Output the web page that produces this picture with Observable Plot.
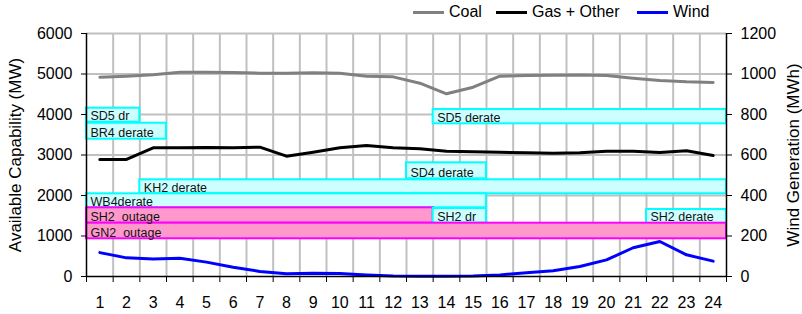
<!DOCTYPE html>
<html><head><meta charset="utf-8">
<script src="https://cdn.jsdelivr.net/npm/d3@7"></script>
<script src="https://cdn.jsdelivr.net/npm/@observablehq/plot@0.6"></script>
<style>
body{margin:0;background:#fff;font-family:"Liberation Sans",Arial,sans-serif;}
#wrap{position:relative;width:802px;height:314px;overflow:hidden;}
#legend{position:relative;height:22px;}
.item{position:absolute;top:3px;font-size:16px;line-height:18px;display:flex;align-items:center;white-space:nowrap;color:#000;}
.sw{display:inline-block;width:31px;height:3px;margin-right:5px;}
#title{position:absolute;left:84px;top:-21px;font:bold 20px "Liberation Sans",Arial,sans-serif;color:#3333cc;line-height:20px;white-space:nowrap;}
</style></head><body>
<div id="wrap">
<div id="title">Capacity</div>
<div id="legend"></div>
<div id="chart"></div>
</div>
<script>
// Categories (hour of day)
const hours = [1,2,3,4,5,6,7,8,9,10,11,12,13,14,15,16,17,18,19,20,21,22,23,24];
// Series values
const coal = [4920,4946,4980,5045,5045,5037,5020,5020,5030,5020,4946,4930,4773,4511,4674,4946,4963,4970,4975,4963,4897,4840,4807,4790];
const gas  = [2889,2889,3177,3177,3185,3177,3193,2971,3070,3177,3235,3177,3152,3095,3078,3070,3053,3045,3053,3095,3095,3062,3103,2988];
const wind = [118,92,87,90,71,46,25,13,16,15,8,3,1,1,2,8,18,28,49,82,142,173,107,76]; // MWh
// Tick labels
const yTicks = [0,1000,2000,3000,4000,5000,6000];
const windPerMW = 1200/6000;
// Unit outage / derate bands
const boxLabel = ["SD5 dr","BR4 derate","SD5 derate","SD4 derate","KH2 derate","WB4derate","SH2  outage","SH2 dr","SH2 derate","GN2  outage"];
const boxFrom  = [1,1,14,13,3,1,1,14,22,1];
const boxTo    = [2,3,24,15,24,15,13,15,24,24];
const boxLow   = [3810,3390,3770,2412,2042,1696,1316,1316,1309,931];
const boxHigh  = [4156,3785,4123,2807,2388,2042,1696,1679,1654,1316];
const boxKind  = ["derate","derate","derate","derate","derate","derate","outage","derate","derate","outage"];

const series = hours.map((h,i)=>({hour:h, coal:coal[i], gas:gas[i], wind:wind[i]}));
const boxes = boxLabel.map((label,i)=>({label, x1:boxFrom[i]-0.5, x2:boxTo[i]+0.5, y1:boxLow[i], y2:boxHigh[i], kind:boxKind[i]}));
const edges = [0.5].concat(hours.map(h=>h+0.5));
const inner = edges.slice(1,-1);

const legendItems = [["Coal","#808080",413],["Gas + Other","#000000",496],["Wind","#0000ff",637]];
const lg = document.getElementById("legend");
for (const [t,c,l] of legendItems) {
  const d = document.createElement("div");
  d.className = "item"; d.style.left = l+"px";
  d.innerHTML = `<span class="sw" style="background:${c}"></span><span>${t}</span>`;
  lg.appendChild(d);
}

const chart = Plot.plot({
  width: 802, height: 292,
  marginTop: 11, marginBottom: 38, marginLeft: 86, marginRight: 76,
  style: {fontFamily: "'Liberation Sans', Arial, sans-serif", fontSize: "16px", color: "#000", background: "#fff"},
  x: {type: "linear", domain: [0.5, 24.5]},
  y: {domain: [0, 6000]},
  color: {type: "identity"},
  marks: [
    Plot.ruleX(inner, {stroke: "#c0c0c0", strokeWidth: 2}),
    Plot.ruleY(yTicks.slice(1), {stroke: "#c0c0c0", strokeWidth: 2}),
    Plot.rect(boxes, {x1: "x1", x2: "x2", y1: "y1", y2: "y2",
      fill: d => d.kind === "outage" ? "#ff99cc" : "#ccffff",
      stroke: d => d.kind === "outage" ? "#ff00ff" : "#00ffff", strokeWidth: 2}),
    Plot.text(boxes, {x: "x1", y: "y1", text: "label", textAnchor: "start", lineAnchor: "bottom",
      dx: 4, dy: -2, fontSize: 12.5, fill: "#111"}),
    Plot.line(series, {x: "hour", y: "coal", stroke: "#808080", strokeWidth: 3}),
    Plot.line(series, {x: "hour", y: "gas", stroke: "#000", strokeWidth: 3}),
    Plot.line(series, {x: "hour", y: d => d.wind / windPerMW, stroke: "#0000ff", strokeWidth: 3}),
    Plot.axisX({ticks: edges, tickSize: 6, tickFormat: () => "", label: null, stroke: "#000"}),
    Plot.axisX({ticks: hours, tickSize: 0, tickPadding: 20, tickFormat: d => String(d), label: null}),
    Plot.ruleY([0], {stroke: "#000", strokeWidth: 1.5}),
    Plot.ruleX([0.5, 24.5], {stroke: "#000", strokeWidth: 1.5}),
    Plot.axisY({anchor: "left", ticks: yTicks, tickSize: 5, tickPadding: 9, tickFormat: d => String(d), label: null}),
    Plot.axisY({anchor: "right", ticks: yTicks, tickSize: 5, tickPadding: 9, tickFormat: d => String(Math.round(d * windPerMW)), label: null}),
    Plot.text(["Available Capability (MW)"], {frameAnchor: "left", textAnchor: "middle", rotate: -90, dx: -71, fontSize: 17, fill: "#000"}),
    Plot.text(["Wind Generation (MWh)"], {frameAnchor: "right", textAnchor: "middle", rotate: -90, dx: 67, fontSize: 17, fill: "#000"})
  ]
});
document.getElementById("chart").appendChild(chart);
</script>
</body></html>
